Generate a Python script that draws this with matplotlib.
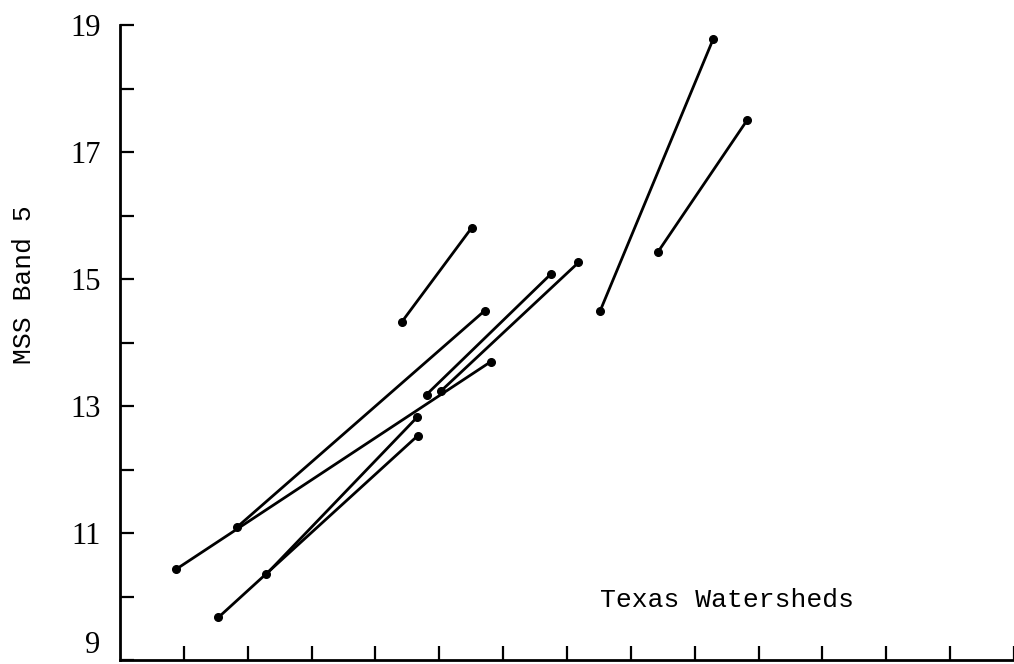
import matplotlib.pyplot as plt

# MSS Band 5 values for Texas watersheds, two dates per watershed (left end / right end)
x_first = [0.88, 1.83, 1.54, 2.29, 4.41, 4.80, 5.03, 7.52, 8.42]
y_first = [10.43, 11.09, 9.67, 10.35, 14.32, 13.18, 13.24, 14.50, 15.42]
x_second = [5.81, 5.71, 4.66, 4.65, 5.51, 6.75, 7.18, 9.29, 9.82]
y_second = [13.70, 14.50, 12.53, 12.82, 15.81, 15.08, 15.26, 18.78, 17.50]

y_ticks = list(range(9, 20))
y_tick_labels = [str(v) if v % 2 == 1 else '' for v in y_ticks]
x_ticks = list(range(1, 15))

fig = plt.figure(figsize=(10.14, 6.64), dpi=100)
ax = fig.add_axes([120 / 1014, 4 / 664, 894 / 1014, 635 / 664])

for x0, y0, x1, y1 in zip(x_first, y_first, x_second, y_second):
    ax.plot([x0, x1], [y0, y1], color='black', linewidth=2.0,
            marker='o', markersize=5.5, clip_on=False, solid_capstyle='round')

ax.text(7.52, 9.83, 'Texas Watersheds', fontsize=19, family='Liberation Mono',
        va='baseline', ha='left')

ax.set_xlim(0, 894 / 64)
ax.set_ylim(9, 19)
ax.set_yticks(y_ticks)
ax.set_yticklabels(y_tick_labels, family='Liberation Serif', fontsize=22)
ax.set_xticks(x_ticks)
ax.set_xticklabels([])
ax.tick_params(axis='both', direction='in', length=10, width=1.6)
ax.tick_params(axis='y', pad=14)
ax.get_yticklabels()[0].set_va('bottom')

for side in ['top', 'right']:
    ax.spines[side].set_visible(False)
for side in ['left', 'bottom']:
    ax.spines[side].set_linewidth(2.0)

fig.text(24 / 1014, 1 - 285 / 664, 'MSS Band 5', rotation=90, fontsize=19,
         family='Liberation Mono', ha='center', va='center')

fig.savefig('out.png', dpi=100)
